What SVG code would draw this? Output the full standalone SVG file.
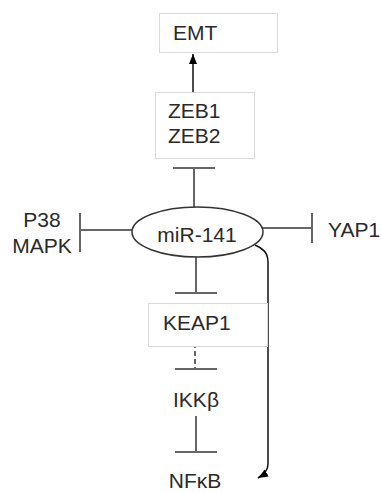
<svg xmlns="http://www.w3.org/2000/svg" width="382" height="493" viewBox="0 0 382 493">
<style>
.box{fill:#fff;stroke:#d9d9d9;stroke-width:1}
.t{font-family:"Liberation Sans",Arial,sans-serif;font-size:21px;fill:#2a2a2a}
.inh{stroke:#666;stroke-width:2;fill:none}
.act{stroke:#111;stroke-width:1.5;fill:none}
</style>
<defs>
<marker id="arr" markerUnits="userSpaceOnUse" markerWidth="12" markerHeight="10" refX="10" refY="4" orient="auto">
<path d="M0,0 L10,4 L0,8 z" fill="#000"/>
</marker>
</defs>
<rect width="382" height="493" fill="#fff"/>
<g id="connectors">
<line class="act" x1="193" y1="92" x2="193" y2="54" marker-end="url(#arr)"/>
<line class="inh" x1="194" y1="168" x2="194" y2="207"/>
<line class="inh" x1="173" y1="168" x2="215" y2="168"/>
<line class="inh" x1="132" y1="230" x2="80" y2="230"/>
<line class="inh" x1="80" y1="213" x2="80" y2="252"/>
<line class="inh" x1="263" y1="228" x2="312" y2="228"/>
<line class="inh" x1="312" y1="213" x2="312" y2="243"/>
<line class="inh" x1="196" y1="257" x2="196" y2="293"/>
<line class="inh" x1="175" y1="293" x2="217" y2="293"/>
<line class="inh" x1="195" y1="335" x2="195" y2="369" stroke-dasharray="5,3"/>
<line class="inh" x1="175" y1="369" x2="217" y2="369"/>
<line class="inh" x1="196" y1="416" x2="196" y2="452"/>
<line class="inh" x1="175" y1="452" x2="217" y2="452"/>
<path class="act" d="M255,245 C262,248 268,252 268,262 L268,464 C268,470 265,474 258,478" marker-end="url(#arr)"/>
</g>
<g id="emt">
<rect class="box" x="159.5" y="13.5" width="118" height="39"/>
<text class="t" x="173" y="40">EMT</text>
</g>
<g id="zeb">
<rect class="box" x="155.5" y="92.5" width="99" height="66"/>
<text class="t" x="168" y="118">ZEB1</text>
<text class="t" x="168" y="143">ZEB2</text>
</g>
<g id="mir141">
<ellipse cx="197.5" cy="232" rx="65.5" ry="25" fill="#fff" stroke="#333" stroke-width="1.5"/>
<text class="t" x="197" y="242" text-anchor="middle">miR-141</text>
</g>
<g id="p38">
<text class="t" x="42" y="227" text-anchor="middle">P38</text>
<text class="t" x="42" y="253" text-anchor="middle">MAPK</text>
</g>
<g id="yap1">
<text class="t" x="328" y="237">YAP1</text>
</g>
<g id="keap1">
<rect class="box" x="148.5" y="303.5" width="119" height="43"/>
<text class="t" x="163" y="330">KEAP1</text>
</g>
<g id="ikkb">
<text class="t" x="196" y="407" text-anchor="middle">IKKβ</text>
</g>
<g id="nfkb">
<text class="t" x="195" y="488" text-anchor="middle">NFκB</text>
</g>
</svg>
